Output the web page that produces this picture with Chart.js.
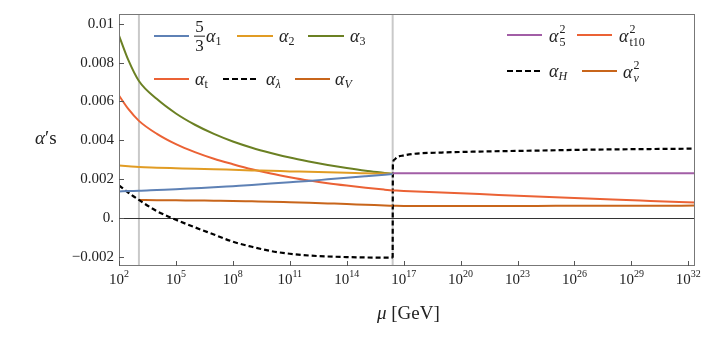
<!DOCTYPE html>
<html><head><meta charset="utf-8">
<script src="https://cdn.jsdelivr.net/npm/chart.js@4.4.1/dist/chart.umd.min.js"></script>
<style>
html,body{margin:0;padding:0;background:#fff;}
#wrap{position:relative;width:706px;height:353px;font-family:"Liberation Serif",serif;color:#222;overflow:hidden;}
#c{position:absolute;left:0;top:0;}
.ov{position:absolute;white-space:nowrap;line-height:1;transform:translateY(-50%);display:flex;align-items:center;}
.sw{position:absolute;height:0;}
.m{font-style:italic;}
.lab{font-size:18px;display:inline-flex;align-items:center;}
.sb{font-size:12px;position:relative;top:5px;}
.ss{display:inline-flex;flex-direction:column;font-size:12px;line-height:1.05;margin-left:1px;}
.fr{display:inline-flex;flex-direction:column;align-items:center;font-size:17px;line-height:1.05;margin-right:1px;}
.fr .bar{border-top:1px solid #222;width:11px;}
</style></head>
<body>
<div id="wrap">
<canvas id="c" width="706" height="353"></canvas>

<!-- legend 1 -->
<div class="sw" style="left:154px;top:35px;width:35px;border-top:2px solid #5E81B5"></div>
<div class="ov" style="left:194px;top:36px"><span class="lab"><span class="fr"><span>5</span><span class="bar"></span><span>3</span></span><span class="m">α</span><span class="sb">1</span></span></div>
<div class="sw" style="left:237px;top:35px;width:36px;border-top:2px solid #E19C24"></div>
<div class="ov" style="left:279px;top:36px"><span class="lab"><span class="m">α</span><span class="sb">2</span></span></div>
<div class="sw" style="left:308px;top:35px;width:36px;border-top:2px solid #6B8023"></div>
<div class="ov" style="left:350px;top:36px"><span class="lab"><span class="m">α</span><span class="sb">3</span></span></div>

<div class="sw" style="left:154px;top:78px;width:35px;border-top:2px solid #EB6235"></div>
<div class="ov" style="left:195px;top:79px"><span class="lab"><span class="m">α</span><span class="sb">t</span></span></div>
<div class="sw" style="left:223px;top:78px;width:33px;border-top:2px dashed #000"></div>
<div class="ov" style="left:266px;top:79px"><span class="lab"><span class="m">α</span><span class="sb m">λ</span></span></div>
<div class="sw" style="left:295px;top:78px;width:35px;border-top:2px solid #C8651B"></div>
<div class="ov" style="left:335px;top:79px"><span class="lab"><span class="m">α</span><span class="sb m">V</span></span></div>

<!-- legend 2 -->
<div class="sw" style="left:507px;top:34px;width:35px;border-top:2px solid #A25EA6"></div>
<div class="ov" style="left:549px;top:36px"><span class="lab"><span class="m">α</span><span class="ss"><span>2</span><span>5</span></span></span></div>
<div class="sw" style="left:577px;top:34px;width:35px;border-top:2px solid #EB6235"></div>
<div class="ov" style="left:619px;top:36px"><span class="lab"><span class="m">α</span><span class="ss"><span>2</span><span>t10</span></span></span></div>
<div class="sw" style="left:507px;top:70px;width:33px;border-top:2px dashed #000"></div>
<div class="ov" style="left:549px;top:71px"><span class="lab"><span class="m">α</span><span class="sb m">H</span></span></div>
<div class="sw" style="left:582px;top:70px;width:35px;border-top:2px solid #C8651B"></div>
<div class="ov" style="left:623px;top:72px"><span class="lab"><span class="m">α</span><span class="ss"><span>2</span><span class="m">ν</span></span></span></div>

<!-- axis titles -->
<div class="ov" style="left:35px;top:137px"><span class="lab" style="font-size:19px"><span class="m">α</span>′s</span></div>
<div class="ov" style="left:377px;top:312px"><span class="lab" style="font-size:19px"><span class="m">μ</span>&nbsp;[GeV]</span></div>
</div>

<script>
// ---- data (x values are log10 of mu in GeV) ----
const logMuLow = [2, 2.5, 3.05, 4, 5, 6, 7, 8, 9, 10, 11, 12, 13, 14, 15, 16, 16.42];
const alpha1x53 = [0.00137, 0.00139, 0.0014, 0.00144, 0.00148, 0.00153, 0.00158, 0.00164, 0.0017, 0.00177, 0.00184, 0.00191, 0.00199, 0.00207, 0.00215, 0.00223, 0.00227];
const alpha2 = [0.0027, 0.00266, 0.00262, 0.00259, 0.00256, 0.00253, 0.00251, 0.00248, 0.00245, 0.00243, 0.0024, 0.00238, 0.00235, 0.00233, 0.0023, 0.00229, 0.00227];
const alpha3 = [0.00939, 0.00811, 0.00705, 0.00612, 0.00538, 0.0048, 0.00433, 0.00394, 0.00362, 0.00335, 0.00311, 0.00291, 0.00273, 0.00257, 0.00243, 0.00232, 0.00227];
const alphaT = [0.0063, 0.0056, 0.005, 0.00433, 0.0038, 0.00339, 0.00305, 0.00277, 0.00251, 0.00229, 0.0021, 0.00193, 0.00179, 0.00167, 0.00156, 0.00146, 0.00142];
const alphaLambda = [0.00168, 0.0013, 0.00093, 0.00035, -0.00009, -0.00048, -0.00085, -0.00122, -0.00148, -0.0017, -0.00184, -0.00193, -0.00198, -0.00201, -0.00203, -0.00204, -0.00204];

const logMuV = [3.05, 4, 5, 6, 7, 8, 9, 10, 11, 12, 13, 14, 15, 16, 16.42];
const alphaV = [0.00093, 0.00092, 0.00091, 0.0009, 0.00089, 0.00088, 0.00086, 0.00084, 0.00081, 0.00078, 0.00075, 0.00072, 0.00068, 0.00065, 0.00063];

const logMuHigh = [16.42, 17, 18, 20, 22, 24, 26, 28, 30, 32.35];
const alpha5sq = [0.00231, 0.00231, 0.00231, 0.00231, 0.00231, 0.00231, 0.00231, 0.00231, 0.00231, 0.00231];
const alphaT10sq = [0.00142, 0.00139, 0.00135, 0.00127, 0.00119, 0.00111, 0.00103, 0.00095, 0.00088, 0.0008];
const alphaNuSq = [0.00063, 0.00062, 0.00062, 0.00062, 0.00062, 0.00062, 0.00063, 0.00063, 0.00063, 0.00064];

const logMuH = [16.42, 16.43, 16.5, 16.65, 17, 17.5, 19, 21, 24, 27, 30, 32.35];
const alphaH = [-0.00204, 0.0027, 0.003, 0.00313, 0.00322, 0.0033, 0.00337, 0.00342, 0.00347, 0.00352, 0.00355, 0.00357];

const thresholdLogMu = [3.05, 16.42];
const xTickExps = [2, 5, 8, 11, 14, 17, 20, 23, 26, 29, 32];
const yTickValues = [-0.002, 0, 0.002, 0.004, 0.006, 0.008, 0.01];
const yTickLabels = ["\u22120.002", "0.", "0.002", "0.004", "0.006", "0.008", "0.01"];
const xRangeExp = [2, 32.35];
const yRange = [-0.00247, 0.0105];

const pts = (xs, ys) => xs.map((L, i) => ({x: Math.pow(10, L), y: ys[i]}));
const ds = (label, xs, ys, color, dash, w) => ({
  label, data: pts(xs, ys), borderColor: color, backgroundColor: color,
  borderWidth: w || 2, borderDash: dash || [], pointRadius: 0, fill: false,
  cubicInterpolationMode: 'monotone'
});

const FONT = '"Liberation Serif", serif';
const frame = {
  id: 'frame',
  beforeDatasetsDraw(chart) {
    const {ctx, chartArea: a, scales: {x, y}} = chart;
    ctx.save();
    ctx.strokeStyle = '#c9c9c9'; ctx.lineWidth = 2;
    thresholdLogMu.forEach(L => {
      const px = x.getPixelForValue(Math.pow(10, L));
      ctx.beginPath(); ctx.moveTo(px, a.top); ctx.lineTo(px, a.bottom); ctx.stroke();
    });
    const py = Math.round(y.getPixelForValue(0)) + 0.5;
    ctx.strokeStyle = '#333'; ctx.lineWidth = 1;
    ctx.beginPath(); ctx.moveTo(a.left, py); ctx.lineTo(a.right, py); ctx.stroke();
    ctx.restore();
  },
  afterDraw(chart) {
    const {ctx, chartArea: a, scales: {x, y}} = chart;
    ctx.save();
    ctx.strokeStyle = '#777'; ctx.lineWidth = 1;
    ctx.strokeRect(Math.round(a.left) + 0.5, Math.round(a.top) + 0.5, Math.round(a.right - a.left) - 1, Math.round(a.bottom - a.top) - 1);
    ctx.strokeStyle = '#555';
    ctx.beginPath();
    xTickExps.forEach(e => {
      const px = Math.round(x.getPixelForValue(Math.pow(10, e))) + 0.5;
      ctx.moveTo(px, a.bottom); ctx.lineTo(px, a.bottom - 5);
    });
    yTickValues.forEach(v => {
      const py = Math.round(y.getPixelForValue(v)) + 0.5;
      ctx.moveTo(a.left, py); ctx.lineTo(a.left + 5, py);
    });
    ctx.stroke();
    ctx.fillStyle = '#222';
    ctx.textBaseline = 'alphabetic';
    xTickExps.forEach(e => {
      const px = x.getPixelForValue(Math.pow(10, e));
      ctx.font = '15px ' + FONT;
      const w1 = ctx.measureText('10').width;
      ctx.font = '10px ' + FONT;
      const w2 = ctx.measureText(String(e)).width;
      const x0 = px - (w1 + w2) / 2;
      ctx.font = '15px ' + FONT;
      ctx.fillText('10', x0, a.bottom + 18);
      ctx.font = '10px ' + FONT;
      ctx.fillText(String(e), x0 + w1, a.bottom + 11);
    });
    ctx.restore();
  }
};

new Chart(document.getElementById('c'), {
  type: 'line',
  data: {
    datasets: [
      ds('5/3 α1', logMuLow, alpha1x53, '#5E81B5'),
      ds('α2', logMuLow, alpha2, '#E19C24'),
      ds('α3', logMuLow, alpha3, '#6B8023'),
      ds('αt', logMuLow, alphaT, '#EB6235'),
      ds('αλ', logMuLow, alphaLambda, '#000000', [5, 3], 2.2),
      ds('αV', logMuV, alphaV, '#C8651B'),
      ds('α5²', logMuHigh, alpha5sq, '#A25EA6'),
      ds('αt10²', logMuHigh, alphaT10sq, '#EB6235'),
      ds('αH', logMuH, alphaH, '#000000', [5, 3], 2.2),
      ds('αν²', logMuHigh, alphaNuSq, '#C8651B')
    ]
  },
  options: {
    responsive: false, animation: false, maintainAspectRatio: false,
    layout: {padding: {left: 0, right: 11, top: 7, bottom: 0}},
    plugins: {legend: {display: false}, tooltip: {enabled: false}},
    scales: {
      x: {
        type: 'logarithmic', min: Math.pow(10, xRangeExp[0]), max: Math.pow(10, xRangeExp[1]),
        grid: {display: false, drawTicks: false}, border: {display: false},
        ticks: {display: false},
        afterBuildTicks: s => { s.ticks = xTickExps.map(e => ({value: Math.pow(10, e)})); },
        afterFit: s => { s.height = 87; }
      },
      y: {
        type: 'linear', min: yRange[0], max: yRange[1],
        grid: {display: false, drawTicks: false}, border: {display: false},
        ticks: {
          padding: 5, color: '#222', font: {family: FONT, size: 15},
          callback: (v) => { const i = yTickValues.findIndex(t => Math.abs(t - v) < 1e-9); return i >= 0 ? yTickLabels[i] : ''; }
        },
        afterBuildTicks: s => { s.ticks = yTickValues.map(v => ({value: v})); },
        afterFit: s => { s.width = 119; }
      }
    }
  },
  plugins: [frame]
});
</script>
</body></html>
